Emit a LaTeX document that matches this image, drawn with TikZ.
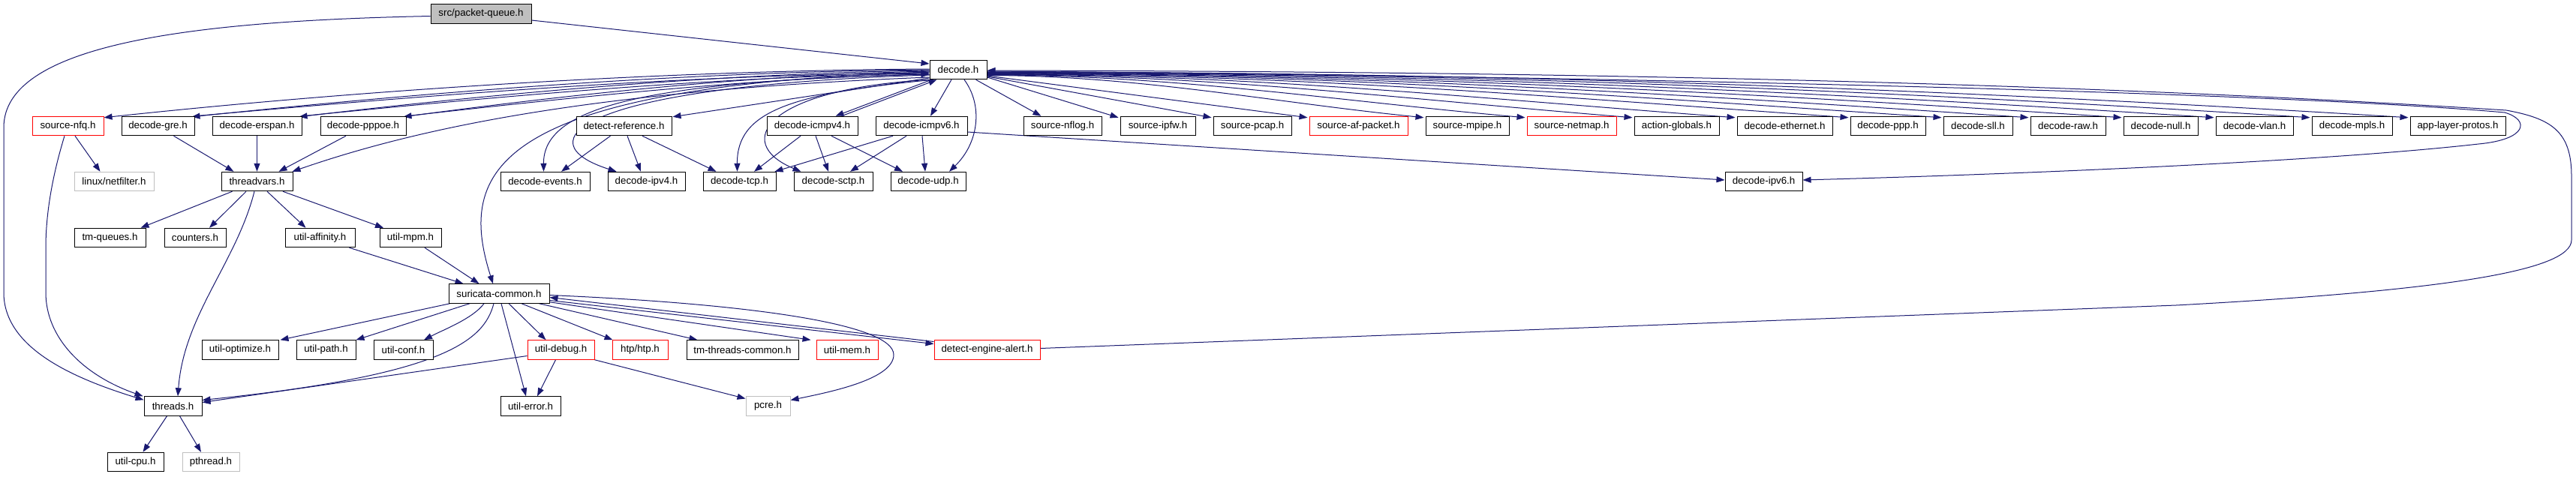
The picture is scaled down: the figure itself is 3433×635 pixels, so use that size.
\documentclass[tikz,border=0pt]{standalone}
\usepackage{fontspec}
\setmainfont{Liberation Sans}
\usetikzlibrary{arrows.meta}
\pgfdeclarelayer{backdrop}
\pgfdeclarelayer{edges}
\pgfsetlayers{backdrop,edges,main}
\definecolor{edgec}{HTML}{191970}
\definecolor{grayb}{HTML}{BFBFBF}
\definecolor{redb}{HTML}{FF0000}
\tikzset{
  box/.style={draw=black, line width=1pt, fill=white, minimum height=25.5pt, inner sep=0pt, font=\fontsize{13.3}{15}\selectfont, text=black},
  nb/.style={box},
  nr/.style={box, draw=redb},
  ng/.style={box, draw=grayb},
  root/.style={box, fill=grayb},
  ed/.style={draw=edgec, line width=1pt, -{Triangle[length=11pt,width=8pt]}},
}
\begin{document}
\begin{tikzpicture}[x=1pt,y=-1pt]
\begin{pgfonlayer}{backdrop}
\fill[white] (0,0) rectangle (3433,635);
\end{pgfonlayer}
\useasboundingbox (0,0) rectangle (3433,635);
% row 0
\node[root, minimum width=134pt] (pq) at (641,18.5) {src/packet-queue.h};
% row 1
\node[nb, minimum width=76pt] (decode) at (1277,93) {decode.h};
% row 2
\node[nr, minimum width=95pt] (nfq) at (90.5,168) {source-nfq.h};
\node[nb, minimum width=97pt] (gre) at (210.5,168) {decode-gre.h};
\node[nb, minimum width=119pt] (erspan) at (342.5,168) {decode-erspan.h};
\node[nb, minimum width=114pt] (pppoe) at (484,168) {decode-pppoe.h};
\node[nb, minimum width=127pt] (detref) at (831.5,168) {detect-reference.h};
\node[nb, minimum width=121pt] (icmpf) at (1082.5,168) {decode-icmpv4.h};
\node[nb, minimum width=122pt] (icmps) at (1228,168) {decode-icmpv6.h};
\node[nb, minimum width=104pt] (nflog) at (1416,168) {source-nflog.h};
\node[nb, minimum width=100pt] (ipfw) at (1543,168) {source-ipfw.h};
\node[nb, minimum width=104pt] (pcap) at (1669,168) {source-pcap.h};
\node[nr, minimum width=131pt] (afp) at (1810.5,168) {source-af-packet.h};
\node[nb, minimum width=111pt] (mpipe) at (1955.5,168) {source-mpipe.h};
\node[nr, minimum width=119pt] (netmap) at (2094.5,168) {source-netmap.h};
\node[nb, minimum width=113pt] (actg) at (2234.5,168) {action-globals.h};
\node[nb, minimum width=127pt] (eth) at (2378.5,168) {decode-ethernet.h};
\node[nb, minimum width=100pt] (ppp) at (2516,168) {decode-ppp.h};
\node[nb, minimum width=92pt] (sll) at (2636,168) {decode-sll.h};
\node[nb, minimum width=100pt] (raw) at (2756,168) {decode-raw.h};
\node[nb, minimum width=99pt] (dnull) at (2879.5,168) {decode-null.h};
\node[nb, minimum width=103pt] (vlan) at (3004.5,168) {decode-vlan.h};
\node[nb, minimum width=107pt] (mpls) at (3134.5,168) {decode-mpls.h};
\node[nb, minimum width=127pt] (alp) at (3275.5,168) {app-layer-protos.h};
% row 3
\node[ng, minimum width=106pt] (netf) at (152,242) {linux/netfilter.h};
\node[nb, minimum width=95pt] (tv) at (342.5,242) {threadvars.h};
\node[nb, minimum width=119pt] (events) at (726.5,242) {decode-events.h};
\node[nb, minimum width=103pt] (ipv4) at (861.5,242) {decode-ipv4.h};
\node[nb, minimum width=97pt] (tcp) at (985.5,242) {decode-tcp.h};
\node[nb, minimum width=105pt] (sctp) at (1110.5,242) {decode-sctp.h};
\node[nb, minimum width=100pt] (udp) at (1237,242) {decode-udp.h};
\node[nb, minimum width=103pt] (ipv6) at (2350.5,242) {decode-ipv6.h};
% row 4
\node[nb, minimum width=95pt] (tmq) at (146.5,317) {tm-queues.h};
\node[nb, minimum width=82pt] (counters) at (260,317) {counters.h};
\node[nb, minimum width=93pt] (aff) at (426.5,317) {util-affinity.h};
\node[nb, minimum width=82pt] (mpm) at (547,317) {util-mpm.h};
% row 5
\node[nb, minimum width=134pt] (sc) at (665,391.5) {suricata-common.h};
% row 6
\node[nb, minimum width=102pt] (opt) at (320,466.5) {util-optimize.h};
\node[nb, minimum width=79pt] (upath) at (434.5,466.5) {util-path.h};
\node[nb, minimum width=79pt] (conf) at (537.5,466.5) {util-conf.h};
\node[nr, minimum width=89pt] (debug) at (747.5,466.5) {util-debug.h};
\node[nr, minimum width=74pt] (htp) at (853,466.5) {htp/htp.h};
\node[nb, minimum width=149pt] (tmtc) at (989.5,466.5) {tm-threads-common.h};
\node[nr, minimum width=82pt] (mem) at (1129,466.5) {util-mem.h};
\node[nr, minimum width=141pt] (dea) at (1315.5,466.5) {detect-engine-alert.h};
% row 7
\node[nb, minimum width=77pt] (threads) at (230.5,541.5) {threads.h};
\node[nb, minimum width=80pt] (uerr) at (707,541.5) {util-error.h};
\node[ng, minimum width=59pt] (pcre) at (1023.5,541.5) {pcre.h};
% row 8
\node[nb, minimum width=75pt] (cpu) at (180.5,616) {util-cpu.h};
\node[ng, minimum width=76pt] (pthread) at (281,616) {pthread.h};

\begin{pgfonlayer}{edges}
% packet-queue
\draw[ed] ([shift={(0,8.5)}]pq.east) -- ([shift={(0,-8)}]decode.west);
\draw[ed] ([shift={(0,3)}]pq.west) .. controls (250,28) and (5,60) .. (5,170) -- (5,390) .. controls (5,465) and (100,505) .. ([shift={(0,5)}]threads.north west);
% decode.h to the left
\draw[ed] ([shift={(0,-1)}]decode.west) .. controls (900,94) and (500,118) .. ([shift={(0,2)}]nfq.north east);
\draw[ed] (decode.west) .. controls (900,96) and (560,124) .. ([shift={(-4,1)}]gre.north east);
\draw[ed] (gre.north east) .. controls (570,127) and (905,100) .. ([shift={(0,4)}]decode.west);
\draw[ed] ([shift={(0,1)}]decode.west) .. controls (950,98) and (650,126) .. ([shift={(-4,1)}]erspan.north east);
\draw[ed] (erspan.north east) .. controls (660,129) and (955,102) .. ([shift={(0,5)}]decode.west);
\draw[ed] ([shift={(0,2)}]decode.west) .. controls (1000,100) and (760,126) .. ([shift={(-4,1)}]pppoe.north east);
\draw[ed] (pppoe.north east) .. controls (770,129) and (1005,104) .. ([shift={(0,6)}]decode.west);
\draw[ed] ([shift={(0,10)}]decode.west) .. controls (800,120) and (565,168) .. ([shift={(-1,0)}]tv.north east);
\draw[ed] ([shift={(0,11)}]decode.west) -- ([shift={(1,1)}]detref.north east);
\draw[ed] ([shift={(0,6)}]decode.west) .. controls (850,108) and (724,145) .. ([shift={(-2,0)}]events.north);
\draw[ed] ([shift={(0,7)}]decode.west) .. controls (760,115) and (700,190) .. ([shift={(12,0)}]ipv4.north west);
\draw[ed] ([shift={(5,0)}]decode.south west) .. controls (1050,125) and (982,150) .. ([shift={(-3,0)}]tcp.north);
\draw[ed] ([shift={(2,0)}]decode.south west) .. controls (1020,118) and (975,190) .. ([shift={(10,0)}]sctp.north west);
\draw[ed] ([shift={(8,0)}]decode.south) .. controls (1310,140) and (1305,190) .. ([shift={(28,0)}]udp.north);
\draw[ed] ([shift={(3,0)}]decode.south west) -- ([shift={(-30,0)}]icmpf.north east);
\draw[ed] ([shift={(-22,0)}]icmpf.north east) -- ([shift={(10,0)}]decode.south west);
\draw[ed] ([shift={(-9,0)}]decode.south) -- ([shift={(12,0)}]icmps.north);
\draw[ed] ([shift={(0,3)}]decode.west) .. controls (650,115) and (610,230) .. ([shift={(-8,0)}]sc.north);
% decode.h to the right
\draw[ed] ([shift={(-15,0)}]decode.south east) -- ([shift={(24,0)}]nflog.north west);
\draw[ed] ([shift={(0,10)}]decode.east) -- ([shift={(-2,2)}]ipfw.north west);
\draw[ed] ([shift={(0,9)}]decode.east) -- ([shift={(-2,2)}]pcap.north west);
\draw[ed] ([shift={(0,8)}]decode.east) -- ([shift={(-2,2)}]afp.north west);
\draw[ed] ([shift={(0,7.5)}]decode.east) .. controls +(200,0) and +(-200,-20) .. ([shift={(-2,2)}]mpipe.north west);
\draw[ed] ([shift={(0,7)}]decode.east) .. controls +(250,0) and +(-250,-22) .. ([shift={(-2,2)}]netmap.north west);
\draw[ed] ([shift={(0,6.5)}]decode.east) .. controls +(300,0) and +(-300,-24) .. ([shift={(-2,2)}]actg.north west);
\draw[ed] ([shift={(0,6)}]decode.east) .. controls +(350,0) and +(-350,-26) .. ([shift={(-2,2)}]eth.north west);
\draw[ed] ([shift={(0,5.5)}]decode.east) .. controls +(400,0) and +(-400,-28) .. ([shift={(-2,2)}]ppp.north west);
\draw[ed] ([shift={(0,5)}]decode.east) .. controls +(450,0) and +(-450,-30) .. ([shift={(-2,2)}]sll.north west);
\draw[ed] ([shift={(0,4.5)}]decode.east) .. controls +(480,0) and +(-480,-32) .. ([shift={(-2,2)}]raw.north west);
\draw[ed] ([shift={(0,4)}]decode.east) .. controls +(520,0) and +(-520,-34) .. ([shift={(-2,2)}]dnull.north west);
\draw[ed] ([shift={(0,3.5)}]decode.east) .. controls +(560,0) and +(-560,-36) .. ([shift={(-2,2)}]vlan.north west);
\draw[ed] ([shift={(0,3)}]decode.east) .. controls +(600,0) and +(-600,-38) .. ([shift={(-2,2)}]mpls.north west);
\draw[ed] ([shift={(0,3)}]decode.east) .. controls +(650,0) and +(-650,-40) .. ([shift={(-2,2)}]alp.north west);
\draw[ed] ([shift={(0,2)}]decode.east) .. controls (2000,100) and (3000,120) .. (3338,150) .. controls (3372,160) and (3368,186) .. (3303,192) .. controls (3100,215) and (2700,232) .. ([shift={(0,-2)}]ipv6.east);
\draw[ed] ([shift={(0,-2)}]dea.east) -- (2900,407) .. controls (3250,388) and (3427,362) .. (3427,320) -- (3427,235) .. controls (3427,175) and (3400,158) .. (3340,147) .. controls (2600,100) and (1800,95) .. ([shift={(0,1)}]decode.east);
% icmp / detect-reference
\draw[ed] ([shift={(0,8)}]icmps.east) -- ([shift={(0,-2)}]ipv6.west);
\draw[ed] ([shift={(46,0)}]detref.south west) -- ([shift={(21.5,0)}]events.north);
\draw[ed] ([shift={(4.5,0)}]detref.south) -- ([shift={(-7.5,0)}]ipv4.north);
\draw[ed] ([shift={(24.5,0)}]detref.south) -- ([shift={(18,0)}]tcp.north west);
\draw[ed] ([shift={(-15.5,0)}]icmpf.south) -- ([shift={(19.5,0)}]tcp.north);
\draw[ed] ([shift={(4.5,0)}]icmpf.south) -- ([shift={(-6.5,0)}]sctp.north);
\draw[ed] ([shift={(25.5,0)}]icmpf.south) -- ([shift={(-34,0)}]udp.north);
\draw[ed] ([shift={(-38,0)}]icmps.south) -- ([shift={(-2,0)}]tcp.north east);
\draw[ed] ([shift={(-20,0)}]icmps.south) -- ([shift={(22.5,0)}]sctp.north);
\draw[ed] ([shift={(1,0)}]icmps.south) -- ([shift={(-4,0)}]udp.north);
% source-nfq, decode-gre etc.
\draw[ed] ([shift={(9.5,0)}]nfq.south) -- ([shift={(35,0)}]netf.north west);
\draw[ed] ([shift={(-4.5,0)}]nfq.south) .. controls (68,240) and (61,290) .. (61,330) -- (61,390) .. controls (61,450) and (110,500) .. ([shift={(-1,0)}]threads.north west);
\draw[ed] ([shift={(21,0)}]gre.south) -- ([shift={(17,0)}]tv.north west);
\draw[ed] (erspan.south) -- (tv.north);
\draw[ed] ([shift={(-23,0)}]pppoe.south) -- ([shift={(-19,0)}]tv.north east);
% threadvars
\draw[ed] ([shift={(15,0)}]tv.south west) -- ([shift={(41,0)}]tmq.north);
\draw[ed] ([shift={(-14.5,0)}]tv.south) -- ([shift={(19,0)}]counters.north);
\draw[ed] ([shift={(13.5,0)}]tv.south) -- ([shift={(-19,0)}]aff.north);
\draw[ed] ([shift={(34.5,0)}]tv.south) -- ([shift={(-36,0)}]mpm.north);
\draw[ed] ([shift={(-3.5,0)}]tv.south) .. controls (315,350) and (245,420) .. ([shift={(6.5,0)}]threads.north);
\draw[ed] ([shift={(-8,0)}]aff.south east) -- ([shift={(20,0)}]sc.north west);
\draw[ed] ([shift={(19,0)}]mpm.south) -- ([shift={(41,0)}]sc.north west);
% suricata-common
\draw[ed] ([shift={(2,0)}]sc.south west) -- ([shift={(2,0)}]opt.north east);
\draw[ed] ([shift={(-39,0)}]sc.south) -- (upath.north east);
\draw[ed] ([shift={(-20,0)}]sc.south) .. controls (630,425) and (590,440) .. ([shift={(-12.5,0)}]conf.north east);
\draw[ed] ([shift={(-7,0)}]sc.south) .. controls (645,455) and (590,500) .. ([shift={(0,-8)}]threads.east);
\draw[ed] ([shift={(3,0)}]sc.south) -- ([shift={(-6,0)}]uerr.north);
\draw[ed] ([shift={(13,0)}]sc.south) -- ([shift={(-20,0)}]debug.north);
\draw[ed] ([shift={(30,0)}]sc.south) -- ([shift={(1,0)}]htp.north west);
\draw[ed] ([shift={(-14,0)}]sc.south east) -- ([shift={(15,0)}]tmtc.north west);
\draw[ed] ([shift={(0,-2)}]sc.south east) -- ([shift={(-7,0)}]mem.north west);
\draw[ed] ([shift={(0,9)}]sc.east) -- ([shift={(0,-8)}]dea.west);
\draw[ed] ([shift={(0,-11)}]dea.west) -- ([shift={(0,5)}]sc.east);
\draw[ed] ([shift={(0,2)}]sc.east) .. controls (1000,405) and (1191,432) .. (1191,473) .. controls (1191,505) and (1110,522) .. ([shift={(0,-8)}]pcre.east);
% util-debug
\draw[ed] ([shift={(0,8)}]debug.west) -- ([shift={(0,-5)}]threads.east);
\draw[ed] ([shift={(-7,0)}]debug.south) -- ([shift={(9,0)}]uerr.north);
\draw[ed] (debug.south east) -- ([shift={(0,-10)}]pcre.west);
% threads
\draw[ed] ([shift={(-8,0)}]threads.south) -- ([shift={(10,0)}]cpu.north);
\draw[ed] ([shift={(9,0)}]threads.south) -- ([shift={(-13,0)}]pthread.north);
\end{pgfonlayer}
\end{tikzpicture}
\end{document}
